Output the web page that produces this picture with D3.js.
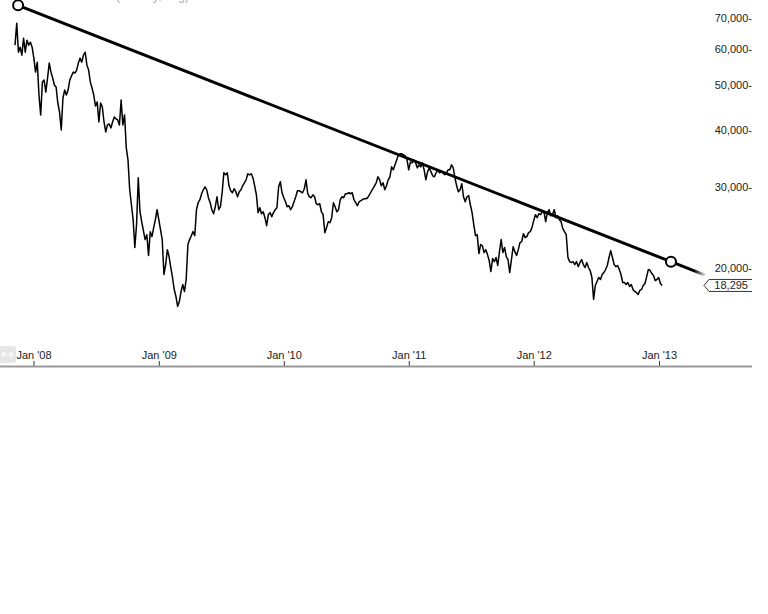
<!DOCTYPE html>
<html><head><meta charset="utf-8">
<script src="https://cdn.jsdelivr.net/npm/d3@7"></script>
<style>html,body{margin:0;padding:0;background:#fff;} svg{display:block;font-family:"Liberation Sans",Arial,sans-serif;}</style>
</head><body><svg id="c" width="768" height="614"></svg>
<script>
// ---- data ----
const firstDate = "2007-11-08";
const stepDays = 5;
const closesPart1 = [
61170,68290,59050,60550,58180,63350,59050,62720,61170,62080,
60550,57310,53420,56160,47610,43080,50810,51330,48330,51850,
55890,53420,51850,50060,49550,45740,43720,39960,46910,48820,
47610,48820,51330,52370,53420,53160,53970,55890,57310,56160,
58180,59050,55330,53970,50810,49310,47610,45060,45970,41580,
45740,44830,41580,39550,40970,41180,40360,41580,42640,42220,
42010,40970,46440,40970,43080,36510,34380,29580,27440,25460,
22130,24830,31420,26490,25200,24090,23030,23610,21260,23970];
const closesPart2 = [
23380,24460,25460,26760,25460,24210,23030,19330,20320,21900,
21150,20020,19040,17930,17310,16460,16880,17750,18380,17750,
18850,22460,23030,23490,23970,23490,26760,27720,28140,29000,
29580,30030,29580,28420,27720,26760,26230,27170,28560,26760,
27170,29140,32220,31890,32220,30180,29440,29140,29730,29290,
28560,29290,29580,30180,30640,31100,32050,31890,32050,31420,
30180,28850,26370,27030,26230,26490,25710,24700,26100,26370];
const closesPart3 = [
25840,26370,26760,27030,30030,30790,29140,28420,27850,27170,
27300,26760,27170,27850,28560,29440,29440,29290,29140,29730,
31100,29000,28560,28420,28850,28560,27580,27440,27580,26490,
26100,23850,24460,25200,25080,25710,27720,27170,26490,26760,
28140,28560,28420,29000,29000,29140,29000,29140,28140,27720,
27300,27850,28000,28140,28280,28280,28420,28850,29290,29730,
30180,30640,31570,31100,30180,30640,29580,30180,31100,31570];
const closesPart4 = [
33190,32700,33530,34380,35250,35430,35430,35250,35080,34380,
32700,34030,33870,34380,33870,33030,33530,33190,33870,32700,
31100,32370,33030,32370,31730,31570,32220,32700,32220,32370,
32220,31890,32220,32700,32700,33530,33030,31420,30180,29290,
29580,30490,28560,27850,28560,28710,27440,26370,24830,23490,
23610,21470,22460,22350,21580,21900,21360,20730,19620,20940,
20620,21050,20220,21680,23030,21580,22130,21150,20830,19520,
20830,22230,21680,21260,21900,22690,22800,23730,23260,23380];
const closesPart5 = [
23850,23970,24460,25330,26100,25710,26230,26100,26490,26490,
25200,26370,26760,25970,26100,26760,25710,25970,25460,25200,
24340,23970,23610,21050,20620,20520,20620,20320,20620,20110,
20520,20830,20320,20020,20520,20020,19720,19040,17050,18290,
18660,19040,18850,19330,19520,19820,20220,21050,21790,21050,
20320,20110,20220,19820,19330,18570,18570,18380,18570,18200,
18380,17930,17750,17660,17480,17840,17930,18290,18470,19130,
19820,19720,19420,19230,18750,18850,19040,18470,18295];
const xTickDates = ["2008-01-01","2009-01-01","2010-01-01","2011-01-01","2012-01-01","2013-01-01"];
const xTickLabels = ["Jan '08","Jan '09","Jan '10","Jan '11","Jan '12","Jan '13"];
const yTickValues = [20000,30000,40000,50000,60000,70000];
const trendDates = ["2007-11-17","2013-02-05"];
const trendValues = [74700,20610];
const lastValue = 18295;
const titleText = "(Weekly, Log)";

// ---- build ----
const parse = d3.timeParse("%Y-%m-%d");
const start = parse(firstDate);
const closes = [].concat(closesPart1, closesPart2, closesPart3, closesPart4, closesPart5);
const series = closes.map((v, i) => ({date: d3.timeDay.offset(start, i * stepDays), value: v}));

const svg = d3.select("#c");
const x = d3.scaleTime().domain([parse("2008-01-01"), parse("2013-01-01")]).range([33.5, 659]);
const y = d3.scaleLog().domain([20000, 70000]).range([267.7, 18.3]);

// title (cut off at the top edge, as in the reference)
svg.append("text").attr("x", 116).attr("y", 0).attr("font-size", 12).attr("fill", "#aaa").text(titleText);

// price line
svg.append("path").datum(series)
  .attr("fill", "none").attr("stroke", "#000").attr("stroke-width", 1.5).attr("stroke-linejoin", "round")
  .attr("d", d3.line().x(d => x(d.date)).y(d => y(d.value)));

// trendline
const p0 = [x(parse(trendDates[0])), y(trendValues[0])];
const p1 = [x(parse(trendDates[1])), y(trendValues[1])];
const xe = 705;
const k = (xe - p1[0]) / (p1[0] - p0[0]);
const pe = [xe, p1[1] + (p1[1] - p0[1]) * k];
const defs = svg.append("defs");
const grad = defs.append("linearGradient").attr("id", "fade").attr("gradientUnits", "userSpaceOnUse")
  .attr("x1", p1[0]).attr("y1", p1[1]).attr("x2", pe[0]).attr("y2", pe[1]);
grad.append("stop").attr("offset", 0).attr("stop-color", "#000");
grad.append("stop").attr("offset", 0.68).attr("stop-color", "#000");
grad.append("stop").attr("offset", 1).attr("stop-color", "#e0e0e0");
svg.append("line").attr("x1", p0[0]).attr("y1", p0[1]).attr("x2", p1[0]).attr("y2", p1[1])
  .attr("stroke", "#000").attr("stroke-width", 3);
svg.append("line").attr("x1", p1[0]).attr("y1", p1[1]).attr("x2", pe[0]).attr("y2", pe[1])
  .attr("stroke", "url(#fade)").attr("stroke-width", 3);
[p0, p1].forEach(p => svg.append("circle").attr("cx", p[0]).attr("cy", p[1]).attr("r", 5)
  .attr("fill", "#fff").attr("stroke", "#000").attr("stroke-width", 2));

// y axis
const yAxis = svg.append("g").attr("transform", "translate(752,0)")
  .call(d3.axisLeft(y).tickValues(yTickValues).tickSize(0).tickPadding(0)
    .tickFormat(d => d3.format(",")(d) + "-"));
yAxis.select(".domain").remove();
yAxis.selectAll("text").attr("font-size", 11).attr("fill", "#222").attr("font-family", '"Liberation Sans",Arial,sans-serif');

// last value tag
const ly = y(lastValue);
svg.append("path").attr("d", `M752,${ly - 6}L709,${ly - 6}L704,${ly}L709,${ly + 6}L752,${ly + 6}`)
  .attr("fill", "#fff").attr("stroke", "#333").attr("stroke-width", 1);
svg.append("text").attr("x", 748).attr("y", ly).attr("dy", "0.35em").attr("text-anchor", "end")
  .attr("font-size", 11).attr("fill", "#222").text(d3.format(",")(lastValue));

// x axis
const xAxis = svg.append("g").attr("transform", "translate(0,366)")
  .call(d3.axisTop(x).tickValues(xTickDates.map(parse)).tickSize(5).tickPadding(2)
    .tickFormat((d, i) => xTickLabels[i]));
xAxis.select(".domain").remove();
xAxis.selectAll(".tick line").attr("stroke", "#333");
xAxis.selectAll("text").attr("font-size", 11).attr("fill", "#222").attr("font-family", '"Liberation Sans",Arial,sans-serif');
svg.append("line").attr("x1", 0).attr("x2", 752).attr("y1", 366.5).attr("y2", 366.5)
  .attr("stroke", "#999").attr("stroke-width", 2);

// scroll button at left
svg.append("rect").attr("x", -4).attr("y", 346).attr("width", 20).attr("height", 17).attr("rx", 3).attr("fill", "#e6e6e6");
svg.append("path").attr("d", "M2,354.5H13M2,354.5l3,-2.5M2,354.5l3,2.5M13,354.5l-3,-2.5M13,354.5l-3,2.5")
  .attr("stroke", "#fff").attr("stroke-width", 1.2).attr("fill", "none");
</script></body></html>
